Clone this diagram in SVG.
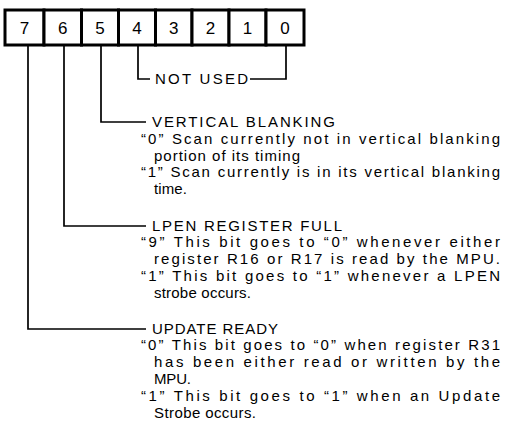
<svg xmlns="http://www.w3.org/2000/svg" width="509" height="440" viewBox="0 0 509 440">
<style>
.cell{fill:#fff;stroke:#000;stroke-width:3}
.d{font-family:"Liberation Sans",Arial,sans-serif;font-size:17px;text-anchor:middle;fill:#000}
.t{font-family:"Liberation Sans",Arial,sans-serif;font-size:15px;fill:#000}
.c{fill:none;stroke:#000;stroke-width:1.7}
</style>
<rect width="509" height="440" fill="#fff"/>
<g id="register">
<g id="bit7"><rect class="cell" x="5" y="10" width="39" height="35"/><text class="d" x="24.5" y="34">7</text></g>
<g id="bit6"><rect class="cell" x="44" y="10" width="37.5" height="35"/><text class="d" x="62.7" y="34">6</text></g>
<g id="bit5"><rect class="cell" x="81.5" y="10" width="37" height="35"/><text class="d" x="100" y="34">5</text></g>
<g id="bit4"><rect class="cell" x="118.5" y="10" width="37" height="35"/><text class="d" x="137" y="34">4</text></g>
<g id="bit3"><rect class="cell" x="155.5" y="10" width="36.5" height="35"/><text class="d" x="173.7" y="34">3</text></g>
<g id="bit2"><rect class="cell" x="192" y="10" width="37" height="35"/><text class="d" x="210.5" y="34">2</text></g>
<g id="bit1"><rect class="cell" x="229" y="10" width="37" height="35"/><text class="d" x="247.5" y="34">1</text></g>
<g id="bit0"><rect class="cell" x="266" y="10" width="38" height="35"/><text class="d" x="285" y="34">0</text></g>
</g>
<g id="connectors">
<path class="c" d="M138,45 V79 H150"/>
<path class="c" d="M250,79 H286 V45"/>
<path class="c" d="M101,45 V122 H146"/>
<path class="c" d="M64,45 V226 H146"/>
<path class="c" d="M28,45 V329 H146"/>
</g>
<g id="not-used"><text class="t" x="155" y="84" textLength="93" lengthAdjust="spacing">NOT USED</text></g>
<g id="vertical-blanking">
<text class="t" x="152" y="127" textLength="183" lengthAdjust="spacing">VERTICAL BLANKING</text>
<text class="t" x="141" y="144" textLength="359" lengthAdjust="spacing">“0” Scan currently not in vertical blanking</text>
<text class="t" x="154" y="161" textLength="146" lengthAdjust="spacing">portion of its timing</text>
<text class="t" x="141" y="177" textLength="359" lengthAdjust="spacing">“1” Scan currently is in its vertical blanking</text>
<text class="t" x="154" y="194" textLength="33" lengthAdjust="spacing">time.</text>
</g>
<g id="lpen-register-full">
<text class="t" x="152" y="231" textLength="190" lengthAdjust="spacing">LPEN REGISTER FULL</text>
<text class="t" x="141" y="247" textLength="359" lengthAdjust="spacing">“9” This bit goes to “0” whenever either</text>
<text class="t" x="154" y="264" textLength="346" lengthAdjust="spacing">register R16 or R17 is read by the MPU.</text>
<text class="t" x="141" y="281" textLength="359" lengthAdjust="spacing">“1” This bit goes to “1” whenever a LPEN</text>
<text class="t" x="154" y="298" textLength="97" lengthAdjust="spacing">strobe occurs.</text>
</g>
<g id="update-ready">
<text class="t" x="152" y="334" textLength="126" lengthAdjust="spacing">UPDATE READY</text>
<text class="t" x="141" y="350" textLength="359" lengthAdjust="spacing">“0” This bit goes to “0” when register R31</text>
<text class="t" x="154" y="367" textLength="346" lengthAdjust="spacing">has been either read or written by the</text>
<text class="t" x="154" y="384" textLength="37" lengthAdjust="spacing">MPU.</text>
<text class="t" x="141" y="401" textLength="359" lengthAdjust="spacing">“1” This bit goes to “1” when an Update</text>
<text class="t" x="154" y="418" textLength="102" lengthAdjust="spacing">Strobe occurs.</text>
</g>
</svg>
